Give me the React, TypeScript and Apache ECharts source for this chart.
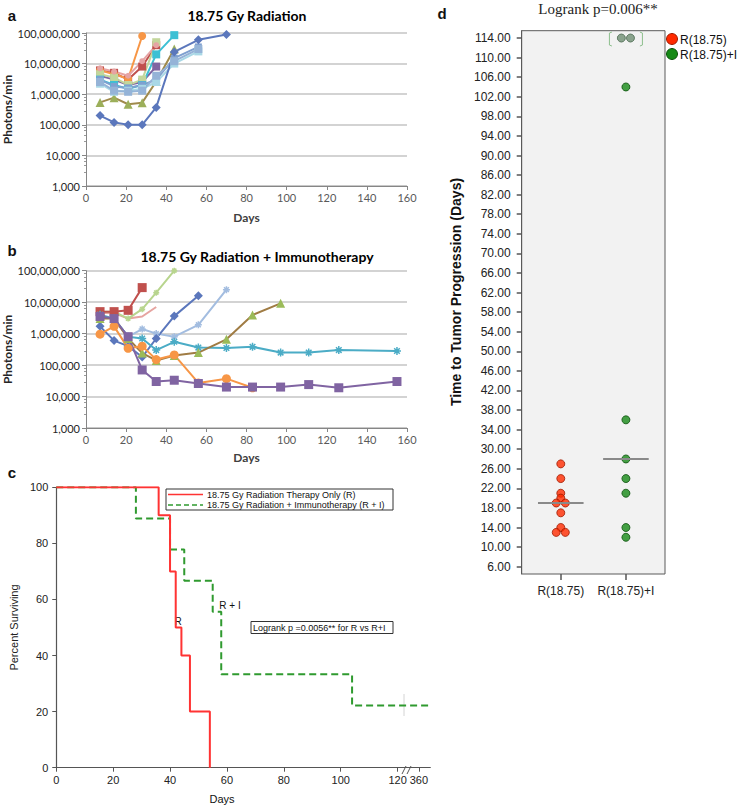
import React, { useEffect, useRef } from "react";
import * as echarts from "echarts";

// ---------- Panel a : 18.75 Gy Radiation ----------
const aDays = [7, 14, 21, 28, 35, 44, 56, 70];
const aRedSquare = [6e6, 5e6, 3e6, 8e6, 4e7];
const aOliveTriangle = [5.4e5, 7.7e5, 4.7e5, 5.3e5, 2.6e6, 3e7];
const aPurpleSquare = [4e6, 3e6, 2e6, 2.5e6, 8e6];
const aOrangeCircle = [6e6, 4.5e6, 3.2e6, 8e7];
const aLightGreen = [4.5e6, 3.5e6, 2e6, 3e6, 5e7];
const aPink = [7e6, 5.5e6, 4e6, 1.2e7, 4e7];
const aCyanSquare = [3e6, 2e6, 1.5e6, 2e6, 2e7, 8.5e7];
const aSteel = [3e6, 1.8e6, 1.6e6, 2e6, 3e6, 1.5e7, 3.5e7];
const aPaleCyan = [2.2e6, 1.2e6, 1.3e6, 1.5e6, 2.5e6, 1e7, 2.5e7];
const aLightBlue = [2.5e6, 1.3e6, 1.2e6, 1.3e6, 4e6, 1.2e7, 3e7];
const aBlueDiamond = [2e5, 1.2e5, 1e5, 1e5, 3.7e5, 2.4e7, 6e7, 9e7];

// ---------- Panel b : 18.75 Gy Radiation + Immunotherapy ----------
const bDays = [7, 14, 21, 28, 35, 44, 56, 70, 83, 97, 111, 126, 155];
const bPink = [4.5e6, 4.5e6, 3e6, 3.5e6, 7e6];
const bLightGreen = [5e6, 5e6, 3e6, 6e6, 2e7, 1e8];
const bRedSquare = [5e6, 5e6, 5.5e6, 2.9e7];
const bLightBlue = [3.5e6, 3e6, 8e5, 1.4e6, 1e6, 8e5, 1.9e6, 2.5e7];
const bBlueDiamond = [1.7e6, 6e5, 4e5, 1.8e5, 7e5, 3.6e6, 1.6e7];
const bCyanStar = [4e6, 3e6, 8e5, 7e5, 3e5, 5.5e5, 3.6e5, 3.5e5, 3.8e5, 2.5e5, 2.5e5, 3e5, 2.8e5];
const bOliveTriangle = [3e6, 3e6, 7e5, 2.4e5, 1.4e5, 2e5, 2.5e5, 6.6e5, 3.9e6, 9.2e6];
const bOrangeCircle = [9.6e5, 1.7e6, 3.4e5, 4e5, 1.5e5, 2.1e5, 2.7e4, 3.7e4, 1.9e4];
const bPurpleSquare = [3.5e6, 3e6, 8e5, 7e4, 3e4, 3.3e4, 2.6e4, 2e4, 2e4, 2e4, 2.4e4, 1.9e4, 3e4];

// ---------- Panel c : Kaplan-Meier ----------
const kmTickDays = [0, 20, 40, 60, 80, 100, 120, 360];
const rTimes = [0, 36, 40, 42, 44, 47, 54];
const rSurvival = [100, 90, 70, 50, 40, 20, 0];
const riTimes = [0, 28, 40, 45, 55, 58, 104, 365];
const riSurvival = [100, 88.9, 77.8, 66.7, 55.6, 33.3, 22.2, 22.2];

// ---------- Panel d : time to tumor progression ----------
const groups = ["R(18.75)", "R(18.75)+I"];
const rTTP = [27, 24, 21, 20, 19, 19, 17, 14, 13, 13];
const riTTP = [36, 28, 24, 21, 14, 12, 104];
const riCensoredTTP = [114, 114];
const ttpTicks = [6, 10, 14, 18, 22, 26, 30, 34, 38, 42, 46, 50, 54, 58, 62, 66, 70, 74, 78, 82, 86, 90, 94, 98, 102, 106, 110, 114];

const ASTERISK = "path://M5,0L5,10M0,5L10,5M1.5,1.5L8.5,8.5M8.5,1.5L1.5,8.5";

// broken axis: 0..120 linear, then a break, 360 placed just after
const kmX = (t: number) => (t <= 120 ? t : 127.5 + (t - 360) * 0.75);

const jitter = (values: number[], center: number) => {
  const counts: Record<number, number> = {};
  values.forEach((v) => (counts[v] = (counts[v] || 0) + 1));
  const seen: Record<number, number> = {};
  return values.map((v) => {
    const n = counts[v];
    seen[v] = seen[v] === undefined ? 0 : seen[v] + 1;
    return [center + (seen[v] - (n - 1) / 2) * 0.14, v];
  });
};
const median = (values: number[]) => {
  const s = [...values].sort((x, y) => x - y);
  const m = Math.floor(s.length / 2);
  return s.length % 2 ? s[m] : (s[m - 1] + s[m]) / 2;
};

type Spec = { values: number[]; color: string; marker?: string; symbol: string; size: number };

const aSpecs: Spec[] = [
  { values: aRedSquare, color: "#C0504D", symbol: "rect", size: 8 },
  { values: aOliveTriangle, color: "#A08A4C", marker: "#9CAF5A", symbol: "triangle", size: 9 },
  { values: aPurpleSquare, color: "#8064A2", symbol: "rect", size: 8 },
  { values: aOrangeCircle, color: "#F79646", symbol: "circle", size: 8 },
  { values: aLightGreen, color: "#C3D69B", symbol: "rect", size: 8 },
  { values: aPink, color: "#E6A4A4", symbol: "circle", size: 6 },
  { values: aCyanSquare, color: "#3CC0D4", symbol: "rect", size: 8 },
  { values: aSteel, color: "#7FA0D0", symbol: "rect", size: 7 },
  { values: aPaleCyan, color: "#A9D8E6", symbol: "rect", size: 8 },
  { values: aLightBlue, color: "#95B3D7", symbol: "rect", size: 8 },
  { values: aBlueDiamond, color: "#5B77BC", symbol: "diamond", size: 9 },
];
const bSpecs: Spec[] = [
  { values: bPink, color: "#E6A4A0", symbol: "none", size: 0 },
  { values: bLightGreen, color: "#B8D58E", symbol: ASTERISK, size: 6 },
  { values: bRedSquare, color: "#C0504D", symbol: "rect", size: 9 },
  { values: bLightBlue, color: "#A3BDE0", symbol: ASTERISK, size: 7 },
  { values: bBlueDiamond, color: "#5B77BC", symbol: "diamond", size: 9 },
  { values: bCyanStar, color: "#4BACC6", symbol: ASTERISK, size: 8 },
  { values: bOliveTriangle, color: "#A07C44", marker: "#9BBB59", symbol: "triangle", size: 9 },
  { values: bOrangeCircle, color: "#F79646", symbol: "circle", size: 9 },
  { values: bPurpleSquare, color: "#8064A2", symbol: "rect", size: 9 },
];

const excelSeries = (specs: Spec[], days: number[], idx: number) =>
  specs.map((s) => ({
    type: "line",
    xAxisIndex: idx,
    yAxisIndex: idx,
    data: s.values.map((v, i) => [days[i], v]),
    symbol: s.symbol,
    symbolSize: s.size,
    lineStyle: { color: s.color, width: 2 },
    itemStyle: {
      color: s.marker || s.color,
      borderColor: s.marker || s.color,
      borderWidth: s.symbol === ASTERISK ? 1.5 : 0,
    },
    silent: true,
  }));

const LATO = "Lato";
const ARIAL = "Liberation Sans";

const excelX = (idx: number, gap: number) => ({
  type: "value",
  gridIndex: idx,
  min: 0,
  max: 160,
  interval: 20,
  axisLine: { show: true, onZero: false, lineStyle: { color: "#868686", width: 1 } },
  axisTick: { show: true, length: 4, lineStyle: { color: "#868686" } },
  axisLabel: { color: "#595959", fontFamily: LATO, fontSize: 11, margin: 6 },
  splitLine: { show: false },
  name: "Days",
  nameLocation: "middle",
  nameGap: gap,
  nameTextStyle: { fontFamily: LATO, fontWeight: "bold", fontSize: 12, color: "#404040", verticalAlign: "middle" },
});
const excelY = (idx: number) => ({
  type: "log",
  gridIndex: idx,
  logBase: 10,
  min: 1000,
  max: 1e8,
  axisLine: { show: true, lineStyle: { color: "#868686", width: 1 } },
  axisTick: { show: true, length: 4, lineStyle: { color: "#868686" } },
  minorTick: { show: true, length: 2, splitNumber: 5, lineStyle: { color: "#9a9a9a" } },
  axisLabel: {
    formatter: (v: number) => Math.round(v).toLocaleString("en-US"),
    fontFamily: LATO,
    fontSize: 11,
    color: "#262626",
    margin: 6,
  },
  splitLine: { show: true, lineStyle: { color: "#C4C4C4", width: 1.5 } },
  name: "Photons/min",
  nameLocation: "middle",
  nameGap: 76,
  nameTextStyle: { fontFamily: LATO, fontWeight: "bold", fontSize: 12, color: "#262626", verticalAlign: "middle" },
});

const txt = (text: string, x: number, y: number, o: any = {}) => ({
  type: "text",
  x,
  y,
  rotation: o.rotation || 0,
  silent: true,
  style: {
    text,
    fill: o.fill || "#111",
    font: `${o.weight || "normal"} ${o.size || 10}px "${o.family || ARIAL}"`,
    align: o.align || "center",
    verticalAlign: "middle",
  },
});

export default function App() {
  const ref = useRef<HTMLDivElement>(null);
  useEffect(() => {
    if (!ref.current) return;
    const chart = echarts.init(ref.current, undefined, { renderer: "svg" });
    const kmTickPos = kmTickDays.map(kmX);
    const rMed = median(rTTP);
    const riMed = median([...riTTP, ...riCensoredTTP]);

    const option: any = {
      animation: false,
      grid: [
        { left: 86, top: 33, width: 321, height: 153 },
        { left: 86, top: 270.7, width: 321, height: 157.3 },
        { left: 45.7, top: 487.3, width: 384.6, height: 280.4 },
        {
          left: 521.7, top: 30.7, width: 143.3, height: 543.3,
          show: true, backgroundColor: "#F2F2F2", borderColor: "#5A5A5A", borderWidth: 1,
        },
      ],
      xAxis: [
        excelX(0, 31),
        excelX(1, 29),
        {
          type: "value", gridIndex: 2, min: 0, max: 131.5,
          axisLine: { show: true, onZero: false, lineStyle: { color: "#555", width: 1.2 } },
          axisTick: { show: true, customValues: kmTickPos, length: 4, lineStyle: { color: "#555" } },
          axisLabel: {
            customValues: kmTickPos,
            formatter: (v: number) => String(kmTickDays[kmTickPos.findIndex((p) => Math.abs(p - v) < 1e-6)]),
            fontFamily: ARIAL, fontSize: 11, color: "#222", margin: 7,
          },
          splitLine: { show: false },
        },
        {
          type: "value", gridIndex: 3, min: 0.4, max: 2.6,
          axisLine: { show: false },
          axisTick: { show: true, customValues: [1, 2], length: 6, lineStyle: { color: "#555", width: 1.5 } },
          axisLabel: {
            customValues: [1, 2],
            formatter: (v: number) => groups[Math.round(v) - 1],
            fontFamily: ARIAL, fontSize: 12, color: "#222", margin: 11,
          },
          splitLine: { show: false },
        },
      ],
      yAxis: [
        excelY(0),
        excelY(1),
        {
          type: "value", gridIndex: 2, min: 0, max: 100, interval: 20,
          axisLine: { show: true, lineStyle: { color: "#555", width: 1.2 } },
          axisTick: { show: true, length: 4, lineStyle: { color: "#555" } },
          axisLabel: { fontFamily: ARIAL, fontSize: 11, color: "#222", margin: 8 },
          splitLine: { show: false },
          name: "Percent Surviving", nameLocation: "middle", nameGap: 35.7,
          nameTextStyle: { fontFamily: ARIAL, fontSize: 11, color: "#222", verticalAlign: "middle" },
        },
        {
          type: "value", gridIndex: 3, min: 4.5, max: 115.5,
          axisLine: { show: true, lineStyle: { color: "#5A5A5A", width: 1 } },
          axisTick: { show: true, customValues: ttpTicks, length: 5, lineStyle: { color: "#555", width: 1.5 } },
          axisLabel: {
            customValues: ttpTicks,
            formatter: (v: number) => v.toFixed(2),
            fontFamily: ARIAL, fontSize: 12, color: "#222", margin: 11,
          },
          splitLine: { show: false },
        },
      ],
      series: [
        ...excelSeries(aSpecs, aDays, 0),
        ...excelSeries(bSpecs, bDays, 1),
        {
          type: "line", xAxisIndex: 2, yAxisIndex: 2, step: "end", symbol: "none", silent: true,
          data: riTimes.map((t, i) => [kmX(t), riSurvival[i]]),
          lineStyle: { color: "#2F9A2F", width: 2, type: [7, 4] },
        },
        {
          type: "line", xAxisIndex: 2, yAxisIndex: 2, step: "end", symbol: "none", silent: true,
          data: rTimes.map((t, i) => [kmX(t), rSurvival[i]]),
          lineStyle: { color: "#FF3333", width: 2 },
        },
        {
          type: "scatter", xAxisIndex: 3, yAxisIndex: 3, silent: true, symbolSize: 8, z: 3,
          data: jitter(rTTP, 1),
          itemStyle: { color: "#FF2A00", borderColor: "#9E1A00", borderWidth: 1 },
        },
        {
          type: "scatter", xAxisIndex: 3, yAxisIndex: 3, silent: true, symbolSize: 8, z: 3,
          data: jitter(riTTP, 2),
          itemStyle: { color: "#168A16", borderColor: "#0B500B", borderWidth: 1 },
        },
        {
          type: "scatter", xAxisIndex: 3, yAxisIndex: 3, silent: true, symbolSize: 8, z: 3,
          data: jitter(riCensoredTTP, 2),
          itemStyle: { color: "#6F8E73", borderColor: "#4D6B52", borderWidth: 1 },
        },
        {
          type: "custom", xAxisIndex: 3, yAxisIndex: 3, silent: true, z: 2,
          data: [[2, Math.max(...riCensoredTTP)]],
          renderItem: (_p: any, api: any) => {
            const c = api.coord([api.value(0), api.value(1)]);
            const st = { stroke: "#8CBF8C", fill: "none", lineWidth: 1 };
            return {
              type: "group",
              children: [
                { type: "polyline", shape: { points: [[c[0] - 14, c[1] - 6], [c[0] - 16.5, c[1] - 5], [c[0] - 16.5, c[1] + 7], [c[0] - 14, c[1] + 8]] }, style: st },
                { type: "polyline", shape: { points: [[c[0] + 14, c[1] - 6], [c[0] + 16.5, c[1] - 5], [c[0] + 16.5, c[1] + 7], [c[0] + 14, c[1] + 8]] }, style: st },
              ],
            };
          },
        },
        {
          type: "line", xAxisIndex: 3, yAxisIndex: 3, symbol: "none", silent: true, z: 4,
          data: [[1 - 0.35, rMed], [1 + 0.35, rMed]],
          lineStyle: { color: "#8A8A8A", width: 2 },
        },
        {
          type: "line", xAxisIndex: 3, yAxisIndex: 3, symbol: "none", silent: true, z: 4,
          data: [[2 - 0.35, riMed], [2 + 0.35, riMed]],
          lineStyle: { color: "#8A8A8A", width: 2 },
        },
      ],
      graphic: [
        txt("a", 12, 15, { weight: "bold", size: 15 }),
        txt("b", 12, 250, { weight: "bold", size: 15 }),
        txt("c", 12, 472, { weight: "bold", size: 15 }),
        txt("d", 442, 13, { weight: "bold", size: 15 }),
        txt("18.75 Gy Radiation", 247, 15, { weight: "bold", size: 14, family: LATO, fill: "#000" }),
        txt("18.75 Gy Radiation + Immunotherapy", 257, 256, { weight: "bold", size: 14, family: LATO, fill: "#000" }),
        // panel c legend
        {
          type: "rect", silent: true, shape: { x: 166, y: 489, width: 227, height: 21 },
          style: { fill: "#fff", stroke: "#333", lineWidth: 1 },
        },
        { type: "line", silent: true, shape: { x1: 168, y1: 494.5, x2: 203, y2: 494.5 }, style: { stroke: "#FF3333", lineWidth: 1.5 } },
        { type: "line", silent: true, shape: { x1: 168, y1: 505, x2: 203, y2: 505 }, style: { stroke: "#2F9A2F", lineWidth: 1.5, lineDash: [5, 3] } },
        txt("18.75 Gy Radiation Therapy Only (R)", 207, 494.5, { size: 9, align: "left" }),
        txt("18.75 Gy Radiation + Immunotherapy (R + I)", 207, 505, { size: 9, align: "left" }),
        {
          type: "rect", silent: true, shape: { x: 251, y: 621.5, width: 142, height: 12 },
          style: { fill: "#fff", stroke: "#333", lineWidth: 1 },
        },
        txt("Logrank p =0.0056** for R vs R+I", 253, 627.5, { size: 9, align: "left" }),
        txt("R + I", 230, 605, { size: 10 }),
        txt("R", 178, 621, { size: 10 }),
        txt("Days", 222, 799, { size: 11 }),
        { type: "rect", silent: true, shape: { x: 404, y: 766, width: 8, height: 8 }, style: { fill: "#fff" } },
        { type: "line", silent: true, shape: { x1: 402, y1: 774, x2: 406, y2: 766 }, style: { stroke: "#555", lineWidth: 1 } },
        { type: "line", silent: true, shape: { x1: 407, y1: 774, x2: 411, y2: 766 }, style: { stroke: "#555", lineWidth: 1 } },
        { type: "line", silent: true, shape: { x1: 404, y1: 694, x2: 404, y2: 716 }, style: { stroke: "#D4D4D4", lineWidth: 1 } },
        // panel d
        txt("Logrank p=0.006**", 598, 9, { size: 15, family: "Liberation Serif", fill: "#222" }),
        txt("Time to Tumor Progression (Days)", 456, 292, { size: 14, weight: "bold", rotation: Math.PI / 2, fill: "#111" }),
        { type: "circle", silent: true, shape: { cx: 672, cy: 39, r: 5.5 }, style: { fill: "#FF2A00", stroke: "#9E1A00", lineWidth: 1 } },
        { type: "circle", silent: true, shape: { cx: 672, cy: 54, r: 5.5 }, style: { fill: "#168A16", stroke: "#0B500B", lineWidth: 1 } },
        txt("R(18.75)", 680, 39.5, { size: 12, align: "left" }),
        txt("R(18.75)+I", 680, 54.5, { size: 12, align: "left" }),
      ],
    };
    chart.setOption(option);
    return () => chart.dispose();
  }, []);
  return (
    <div
      ref={ref}
      style={{ position: "absolute", left: 0, top: 0, width: 738, height: 806, background: "#fff" }}
    />
  );
}
